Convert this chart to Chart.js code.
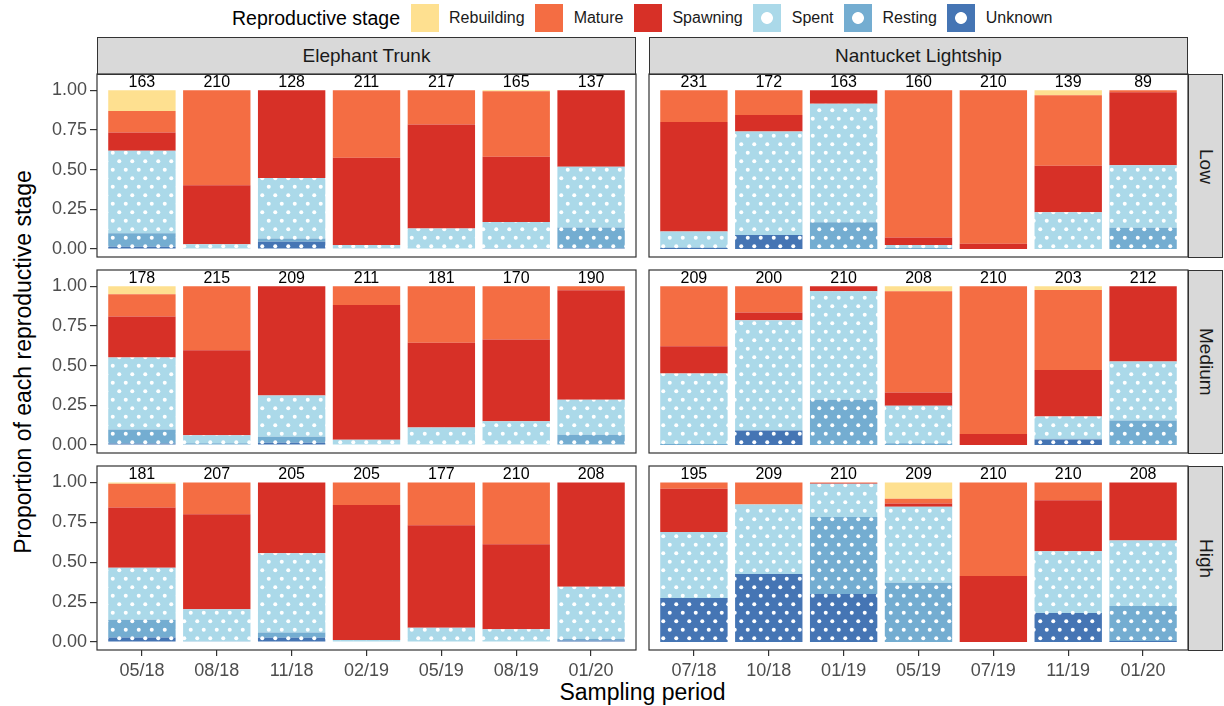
<!DOCTYPE html>
<html>
<head>
<meta charset="utf-8">
<script src="https://cdn.jsdelivr.net/npm/chart.js@4.4.0/dist/chart.umd.min.js"></script>
<style>
  body { margin: 0; width: 1224px; height: 706px; background: #fff; position: relative; overflow: hidden;
         font-family: "Liberation Sans", Arial, sans-serif; }
  canvas { position: absolute; }
  .strip { position: absolute; background: #d9d9d9; border: 1.2px solid #333; box-sizing: border-box;
           color: #1a1a1a; font-size: 19px; display: flex; align-items: center; justify-content: center; }
  .strip.side span { writing-mode: vertical-rl; }
  #legend { position: absolute; left: 232px; top: 4px; height: 28px; display: flex; align-items: center; gap: 10.5px; }
  #legend .title { font-size: 19.5px; color: #000; }
  #legend .key { width: 28px; height: 28px; }
  #legend .lab { font-size: 16px; color: #1a1a1a; }
  .axis-title { position: absolute; font-size: 23px; color: #000; white-space: nowrap; }
</style>
</head>
<body>
<div id="legend"><span class="title">Reproductive stage</span></div>
<div class="axis-title" id="xtitle" style="left:0;width:1285px;top:679px;text-align:center;">Sampling period</div>
<div class="axis-title" id="ytitle" style="left:23px;top:362px;transform:translate(-50%,-50%) rotate(-90deg);">Proportion of each reproductive stage</div>

<script>
// stages, bottom of legend order = top of stack
const stages = ["Rebuilding", "Mature", "Spawning", "Spent", "Resting", "Unknown"];
const stageColors = ["#FEE090", "#F46D43", "#D73027", "#ABD9E9", "#74ADD1", "#4575B4"];
const stageDotted = [false, false, false, true, true, true];

const sites = ["Elephant Trunk", "Nantucket Lightship"];
const levels = ["Low", "Medium", "High"];

const etPeriods = ["05/18", "08/18", "11/18", "02/19", "05/19", "08/19", "01/20"];
const nlPeriods = ["07/18", "10/18", "01/19", "05/19", "07/19", "11/19", "01/20"];

// sample sizes shown above bars
const etLowN = [163, 210, 128, 211, 217, 165, 137];
const etMedN = [178, 215, 209, 211, 181, 170, 190];
const etHighN = [181, 207, 205, 205, 177, 210, 208];
const nlLowN = [231, 172, 163, 160, 210, 139, 89];
const nlMedN = [209, 200, 210, 208, 210, 203, 212];
const nlHighN = [195, 209, 210, 209, 210, 210, 208];

// proportions per stage
const etLow = {
  rebuilding: [0.130, 0, 0, 0, 0, 0.005, 0],
  mature:     [0.135, 0.598, 0, 0.425, 0.215, 0.413, 0],
  spawning:   [0.115, 0.372, 0.552, 0.550, 0.655, 0.412, 0.481],
  spent:      [0.520, 0.030, 0.382, 0.025, 0.130, 0.163, 0.383],
  resting:    [0.085, 0, 0.020, 0, 0, 0.004, 0.130],
  unknown:    [0.015, 0, 0.046, 0, 0, 0.003, 0.006]
};
const etMed = {
  rebuilding: [0.050, 0, 0, 0, 0, 0, 0],
  mature:     [0.140, 0.402, 0, 0.117, 0.356, 0.335, 0.025],
  spawning:   [0.258, 0.536, 0.688, 0.850, 0.534, 0.515, 0.690],
  spent:      [0.454, 0.050, 0.260, 0.033, 0.110, 0.150, 0.220],
  resting:    [0.088, 0.012, 0.038, 0, 0, 0, 0.065],
  unknown:    [0.010, 0, 0.014, 0, 0, 0, 0]
};
const etHigh = {
  rebuilding: [0.008, 0, 0, 0, 0, 0, 0],
  mature:     [0.149, 0.199, 0, 0.142, 0.268, 0.387, 0],
  spawning:   [0.377, 0.596, 0.444, 0.845, 0.642, 0.533, 0.654],
  spent:      [0.326, 0.200, 0.496, 0.013, 0.090, 0.080, 0.326],
  resting:    [0.111, 0.005, 0.033, 0, 0, 0, 0.010],
  unknown:    [0.029, 0, 0.027, 0, 0, 0, 0.010]
};
const nlLow = {
  rebuilding: [0, 0, 0, 0, 0, 0.031, 0],
  mature:     [0.200, 0.155, 0, 0.927, 0.967, 0.444, 0.012],
  spawning:   [0.690, 0.105, 0.084, 0.048, 0.033, 0.293, 0.460],
  spent:      [0.102, 0.652, 0.747, 0.017, 0, 0.232, 0.394],
  resting:    [0, 0, 0.169, 0.008, 0, 0, 0.134],
  unknown:    [0.008, 0.088, 0, 0, 0, 0, 0]
};
const nlMed = {
  rebuilding: [0, 0, 0, 0.031, 0, 0.023, 0],
  mature:     [0.377, 0.165, 0, 0.638, 0.931, 0.504, 0],
  spawning:   [0.172, 0.048, 0.031, 0.084, 0.069, 0.293, 0.473],
  spent:      [0.445, 0.695, 0.684, 0.236, 0, 0.140, 0.372],
  resting:    [0.006, 0, 0.285, 0.011, 0, 0.005, 0.155],
  unknown:    [0, 0.092, 0, 0, 0, 0.035, 0]
};
const nlHigh = {
  rebuilding: [0, 0, 0, 0.103, 0, 0, 0],
  mature:     [0.040, 0.138, 0.004, 0.029, 0.586, 0.111, 0],
  spawning:   [0.270, 0, 0.004, 0.021, 0.414, 0.320, 0.364],
  spent:      [0.414, 0.435, 0.208, 0.475, 0, 0.387, 0.410],
  resting:    [0, 0, 0.483, 0.372, 0, 0, 0.220],
  unknown:    [0.276, 0.427, 0.301, 0, 0, 0.182, 0.006]
};

const panels = [
  { site: 0, level: 0, props: etLow, n: etLowN, periods: etPeriods },
  { site: 0, level: 1, props: etMed, n: etMedN, periods: etPeriods },
  { site: 0, level: 2, props: etHigh, n: etHighN, periods: etPeriods },
  { site: 1, level: 0, props: nlLow, n: nlLowN, periods: nlPeriods },
  { site: 1, level: 1, props: nlMed, n: nlMedN, periods: nlPeriods },
  { site: 1, level: 2, props: nlHigh, n: nlHighN, periods: nlPeriods }
];

// page layout of the facet grid
const colX = [[97, 636], [649, 1188]];
const rowY = [[74, 257], [270, 453], [466, 650]];
const stripTop = 37;
const sideStripW = 35;
const yAxisW = 57;
const xAxisH = 50;
const pad = 2;

const tickFont = { family: "Liberation Sans, Arial, sans-serif", size: 18 };
const tickColor = "#4d4d4d";

function dotPattern(color) {
  const tile = document.createElement("canvas");
  tile.width = 13;
  tile.height = 17;
  const c = tile.getContext("2d");
  c.fillStyle = color;
  c.fillRect(0, 0, 13, 17);
  c.fillStyle = "#ffffff";
  [[3.25, 4.25], [9.75, 12.75]].forEach(p => {
    c.beginPath();
    c.arc(p[0], p[1], 2, 0, Math.PI * 2);
    c.fill();
  });
  return c.createPattern(tile, "repeat");
}

const stageFills = stages.map((s, i) => stageDotted[i] ? dotPattern(stageColors[i]) : stageColors[i]);

// legend
const legend = document.getElementById("legend");
stages.forEach((s, i) => {
  const key = document.createElement("div");
  key.className = "key";
  key.style.background = stageDotted[i]
    ? "radial-gradient(circle, #fff 5.5px, " + stageColors[i] + " 6.3px)"
    : stageColors[i];
  const lab = document.createElement("span");
  lab.className = "lab";
  lab.textContent = s;
  legend.appendChild(key);
  legend.appendChild(lab);
});

// strips
sites.forEach((s, c) => {
  const d = document.createElement("div");
  d.className = "strip";
  d.style.left = colX[c][0] + "px";
  d.style.top = stripTop + "px";
  d.style.width = (colX[c][1] - colX[c][0]) + "px";
  d.style.height = (rowY[0][0] - stripTop + 1) + "px";
  d.textContent = s;
  document.body.appendChild(d);
});
levels.forEach((l, r) => {
  const d = document.createElement("div");
  d.className = "strip side";
  d.style.left = colX[1][1] + "px";
  d.style.top = rowY[r][0] + "px";
  d.style.width = sideStripW + "px";
  d.style.height = (rowY[r][1] - rowY[r][0] + 1) + "px";
  d.innerHTML = "<span>" + l + "</span>";
  document.body.appendChild(d);
});

const panelBorder = {
  id: "panelBorder",
  afterDraw(chart) {
    const a = chart.chartArea;
    const ctx = chart.ctx;
    ctx.save();
    ctx.strokeStyle = "#333333";
    ctx.lineWidth = 1.2;
    ctx.strokeRect(a.left, a.top, a.right - a.left, a.bottom - a.top);
    ctx.restore();
  }
};

const countLabels = {
  id: "countLabels",
  afterDatasetsDraw(chart) {
    const n = chart.config.options.plugins.countLabels.n;
    const ctx = chart.ctx;
    ctx.save();
    ctx.fillStyle = "#000";
    ctx.font = "16px 'Liberation Sans', Arial, sans-serif";
    ctx.textAlign = "center";
    ctx.textBaseline = "middle";
    n.forEach((v, i) => {
      ctx.fillText(String(v), chart.scales.x.getPixelForValue(i + 1), chart.scales.y.getPixelForValue(1.05));
    });
    ctx.restore();
  }
};

panels.forEach(p => {
  const showY = p.site === 0;
  const showX = p.level === 2;
  const left = colX[p.site][0] - (showY ? yAxisW : 0) - pad;
  const top = rowY[p.level][0] - pad;
  const w = colX[p.site][1] - colX[p.site][0] + (showY ? yAxisW : 0) + pad * 2;
  const h = rowY[p.level][1] - rowY[p.level][0] + (showX ? xAxisH : 0) + pad * 2;

  const cv = document.createElement("canvas");
  cv.width = w;
  cv.height = h;
  cv.style.left = left + "px";
  cv.style.top = top + "px";
  cv.style.width = w + "px";
  cv.style.height = h + "px";
  document.body.appendChild(cv);

  // stack from the bottom: Unknown first, Rebuilding last
  const datasets = [];
  for (let i = stages.length - 1; i >= 0; i--) {
    const vals = p.props[stages[i].toLowerCase()];
    datasets.push({
      label: stages[i],
      data: vals.map((v, k) => ({ x: k + 1, y: v })),
      backgroundColor: stageFills[i],
      borderWidth: 0,
      barPercentage: 0.9,
      categoryPercentage: 1.0
    });
  }

  new Chart(cv, {
    type: "bar",
    data: { datasets: datasets },
    options: {
      responsive: false,
      maintainAspectRatio: false,
      animation: false,
      devicePixelRatio: 1,
      layout: { padding: pad },
      plugins: {
        legend: { display: false },
        tooltip: { enabled: false },
        countLabels: { n: p.n }
      },
      scales: {
        x: {
          type: "linear",
          stacked: true,
          offset: false,
          min: 0.4,
          max: 7.6,
          display: showX,
          afterBuildTicks: axis => { axis.ticks = p.periods.map((s, i) => ({ value: i + 1 })); },
          afterFit: axis => {
            axis.paddingLeft = 0;
            axis.paddingRight = 0;
            if (showX) axis.height = xAxisH;
          },
          ticks: {
            callback: v => p.periods[v - 1],
            color: tickColor,
            font: tickFont,
            padding: 4,
            maxRotation: 0,
            autoSkip: false
          },
          grid: { offset: false, drawOnChartArea: false, tickLength: 6, color: "#333333", lineWidth: 1.2 },
          border: { display: false }
        },
        y: {
          stacked: true,
          min: -0.05,
          max: 1.103,
          display: showY,
          afterBuildTicks: axis => { axis.ticks = [0, 0.25, 0.5, 0.75, 1].map(v => ({ value: v })); },
          afterFit: axis => {
            axis.paddingTop = 0;
            axis.paddingBottom = 0;
            if (showY) axis.width = yAxisW;
          },
          ticks: {
            callback: v => v.toFixed(2),
            color: tickColor,
            font: tickFont,
            padding: 3
          },
          grid: { drawOnChartArea: false, tickLength: 7, color: "#333333", lineWidth: 1.2 },
          border: { display: false }
        }
      }
    },
    plugins: [countLabels, panelBorder]
  });
});
</script>
</body>
</html>
